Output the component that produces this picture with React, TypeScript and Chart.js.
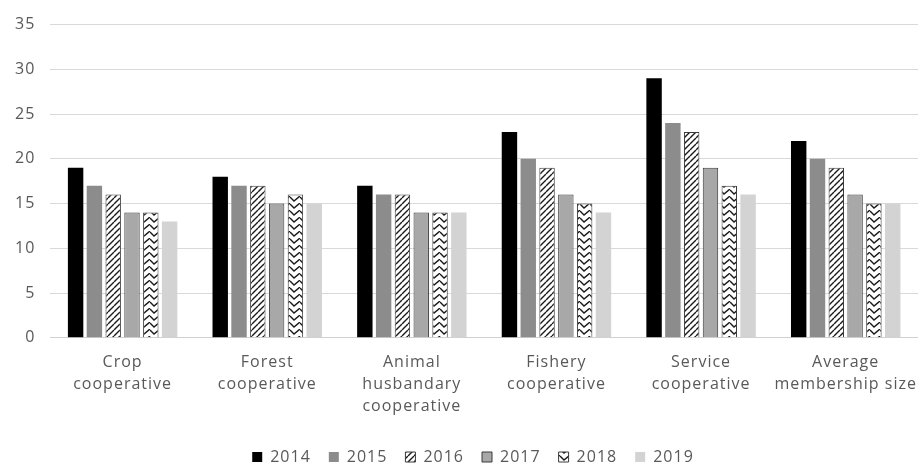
import React, { useEffect, useRef } from "react";
import { Chart, registerables } from "chart.js";

Chart.register(...registerables);

const categories: string[][] = [
  ["Crop", "cooperative"],
  ["Forest", "cooperative"],
  ["Animal", "husbandary", "cooperative"],
  ["Fishery", "cooperative"],
  ["Service", "cooperative"],
  ["Average", "membership size"],
];

const years = ["2014", "2015", "2016", "2017", "2018", "2019"];

const v2014 = [19, 18, 17, 23, 29, 22];
const v2015 = [17, 17, 16, 20, 24, 20];
const v2016 = [16, 17, 16, 19, 23, 19];
const v2017 = [14, 15, 14, 16, 19, 16];
const v2018 = [14, 16, 14, 15, 17, 15];
const v2019 = [13, 15, 14, 14, 16, 15];

const yTicks = { min: 0, max: 35, step: 5 };

function stripePattern(): CanvasPattern | string {
  const c = document.createElement("canvas");
  c.width = 6;
  c.height = 6;
  const g = c.getContext("2d");
  if (!g) return "#fff";
  g.fillStyle = "#ffffff";
  g.fillRect(0, 0, 6, 6);
  g.strokeStyle = "#1a1a1a";
  g.lineWidth = 1.4;
  g.beginPath();
  for (let k = -6; k <= 12; k += 6) {
    g.moveTo(k, 6);
    g.lineTo(k + 6, 0);
  }
  g.stroke();
  return g.createPattern(c, "repeat") as CanvasPattern;
}

function zigzagPattern(): CanvasPattern | string {
  const c = document.createElement("canvas");
  c.width = 10;
  c.height = 7;
  const g = c.getContext("2d");
  if (!g) return "#fff";
  g.fillStyle = "#ffffff";
  g.fillRect(0, 0, 10, 7);
  g.strokeStyle = "#1a1a1a";
  g.lineWidth = 1.4;
  g.beginPath();
  g.moveTo(0, 1);
  g.lineTo(4, 5);
  g.lineTo(10, 0);
  g.stroke();
  return g.createPattern(c, "repeat") as CanvasPattern;
}

// Slightly open letter spacing for every label the chart writes.
const textSpacing = {
  id: "textSpacing",
  beforeLayout(chart: any) {
    chart.ctx.letterSpacing = "1px";
  },
  beforeDraw(chart: any) {
    chart.ctx.letterSpacing = "1px";
  },
};

// Tighter legend block, nudged right of centre.
const legendTrim = {
  id: "legendTrim",
  beforeInit(chart: any) {
    const legend = chart.legend;
    if (!legend) return;
    const fit = legend.fit;
    legend.fit = function () {
      fit.call(this);
      this.height -= 8;
    };
  },
  afterLayout(chart: any) {
    const legend = chart.legend;
    if (!legend) return;
    legend.left += 14;
    legend.right += 14;
  },
};

export default function App() {
  const ref = useRef<HTMLCanvasElement | null>(null);

  useEffect(() => {
    document.body.style.margin = "0";
    if (!ref.current) return;
    const stripes = stripePattern();
    const zigzag = zigzagPattern();
    const font = "'Open Sans', Lato, sans-serif";

    const chart = new Chart(ref.current, {
      type: "bar",
      data: {
        labels: categories,
        datasets: [
          { label: years[0], data: v2014, backgroundColor: "#000000", borderColor: "#000000", borderWidth: 0 },
          { label: years[1], data: v2015, backgroundColor: "#8c8c8c", borderColor: "#8c8c8c", borderWidth: 0 },
          { label: years[2], data: v2016, backgroundColor: stripes, borderColor: "#3a3a3a", borderWidth: 1 },
          { label: years[3], data: v2017, backgroundColor: "#a8a8a8", borderColor: "#3a3a3a", borderWidth: 1 },
          { label: years[4], data: v2018, backgroundColor: zigzag, borderColor: "#3a3a3a", borderWidth: 1 },
          { label: years[5], data: v2019, backgroundColor: "#d3d3d3", borderColor: "#d3d3d3", borderWidth: 0 },
        ],
      },
      options: {
        animation: false,
        responsive: false,
        maintainAspectRatio: false,
        layout: { padding: { left: 0, right: 0, top: 6, bottom: 0 } },
        datasets: {
          bar: { categoryPercentage: 0.78, barPercentage: 0.82 },
        },
        scales: {
          x: {
            grid: { display: false, drawTicks: false },
            border: { display: true, color: "#d0d0d0", width: 1 },
            ticks: {
              color: "#595959",
              font: { family: font, size: 16, lineHeight: 1.4 },
              padding: 13,
              maxRotation: 0,
              autoSkip: false,
            },
            afterFit(scale: any) {
              scale.paddingLeft = 0;
              scale.paddingRight = 0;
            },
          },
          y: {
            min: yTicks.min,
            max: yTicks.max,
            grid: { color: "#d9d9d9", lineWidth: 1, drawTicks: false },
            border: { display: false },
            ticks: {
              stepSize: yTicks.step,
              color: "#595959",
              font: { family: font, size: 16 },
              padding: 15,
            },
          },
        },
        plugins: {
          legend: {
            position: "bottom",
            labels: {
              color: "#595959",
              font: { family: font, size: 16 },
              boxWidth: 10,
              boxHeight: 10,
              padding: 18,
            },
          },
          tooltip: { enabled: false },
        },
      },
      plugins: [textSpacing, legendTrim],
    });
    return () => chart.destroy();
  }, []);

  return (
    <div style={{ width: 918, height: 467, background: "#ffffff" }}>
      <canvas ref={ref} width={918} height={467} />
    </div>
  );
}
